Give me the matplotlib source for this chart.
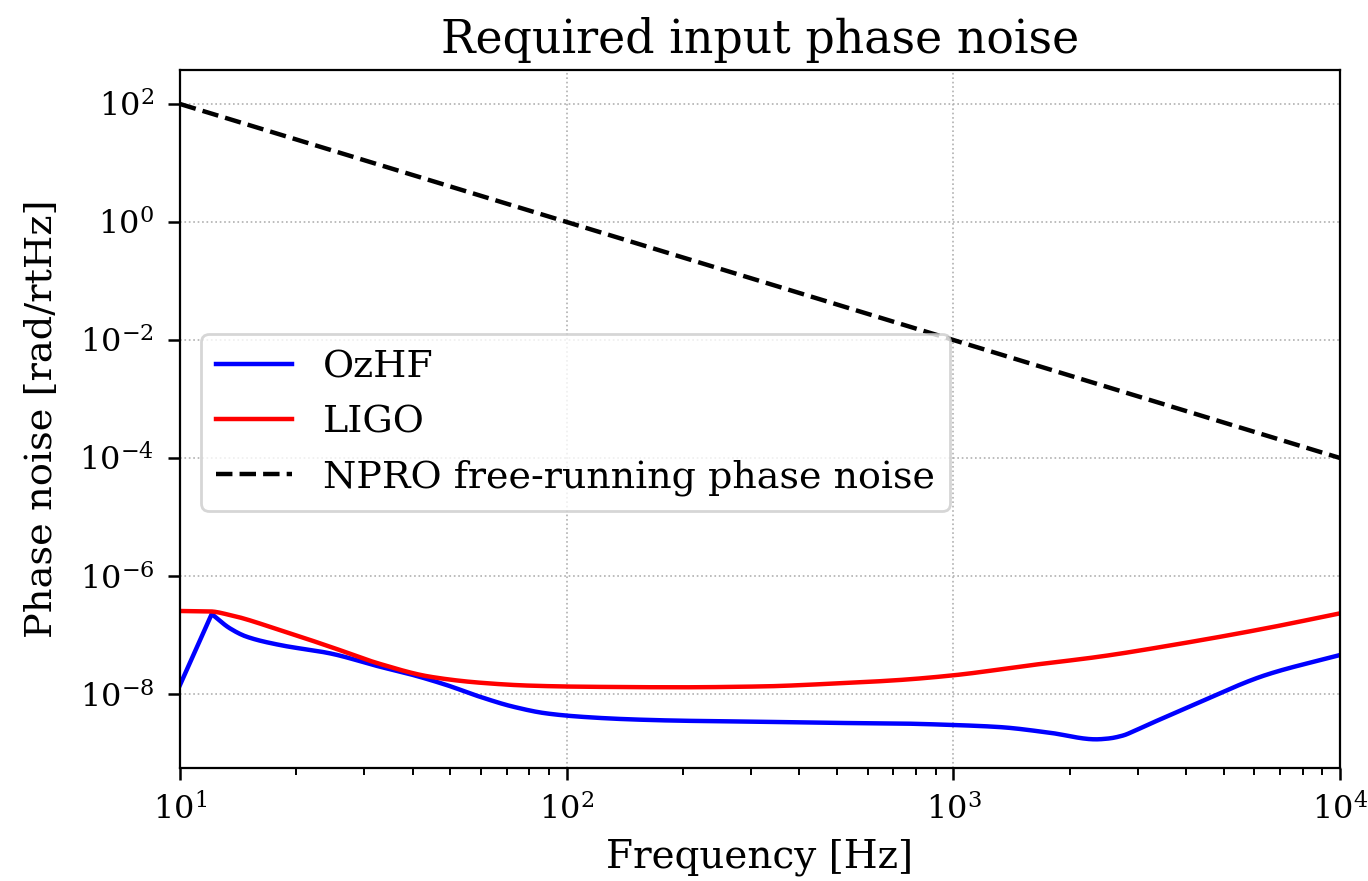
import numpy as np
import matplotlib
matplotlib.use("Agg")
import matplotlib.pyplot as plt
from matplotlib.ticker import NullLocator, FixedLocator, LogFormatterSciNotation

# OzHF required phase noise (frequency Hz, log10 of rad/rtHz)
ozhf_f = [10, 12.08, 13.46, 14.86, 18.11, 24.43, 32.89, 40.09, 48.87, 59.57, 72.61,
          88.51, 108.1, 145.5, 195.9, 316, 501, 724, 1000, 1315, 1770, 2339, 2512,
          2742, 2951, 3214, 3715, 4325, 6427, 10000]
ozhf_log = [-7.847, -6.644, -6.887, -7.028, -7.169, -7.311, -7.537, -7.678, -7.847,
            -8.045, -8.214, -8.328, -8.384, -8.429, -8.452, -8.47, -8.49, -8.50, -8.525,
            -8.56, -8.655, -8.768, -8.755, -8.705, -8.62, -8.51, -8.33, -8.14,
            -7.678, -7.339]

# LIGO required phase noise
ligo_f = [10, 11.97, 13.46, 18.11, 24.43, 32.89, 44.26, 59.57, 80.17, 108.1, 195.9,
          316, 501, 724, 1000, 1603, 2382, 3917, 6427, 10000]
ligo_log = [-6.593, -6.60, -6.661, -6.915, -7.198, -7.49, -7.706, -7.808, -7.858, -7.876,
            -7.886, -7.872, -7.82, -7.763, -7.683, -7.508, -7.368, -7.141, -6.887, -6.633]

# NPRO free-running phase noise
npro_f = [10, 10000]
npro_val = [100, 1e-4]

plt.rcParams['font.family'] = ['DejaVu Serif']
plt.rcParams['mathtext.fontset'] = 'dejavuserif'

fig = plt.figure(figsize=(6.84, 4.405), dpi=200)
ax = fig.add_axes([180/1368, 1-768/881, (1340-180)/1368, (768-70)/881])


def pchip_log(fx, ly, n=800):
    xs = np.log10(np.asarray(fx, float))
    ys = np.asarray(ly, float)
    grid = np.linspace(xs[0], xs[-1], n)
    h = np.diff(xs)
    d = np.diff(ys) / h
    m = np.zeros_like(ys)
    m[0] = d[0]
    m[-1] = d[-1]
    for i in range(1, len(xs) - 1):
        if d[i-1] * d[i] <= 0:
            m[i] = 0
        else:
            w1 = 2*h[i] + h[i-1]
            w2 = h[i] + 2*h[i-1]
            m[i] = (w1 + w2) / (w1/d[i-1] + w2/d[i])
    idx = np.clip(np.searchsorted(xs, grid) - 1, 0, len(xs) - 2)
    t = (grid - xs[idx]) / h[idx]
    h00 = 2*t**3 - 3*t**2 + 1
    h10 = t**3 - 2*t**2 + t
    h01 = -2*t**3 + 3*t**2
    h11 = t**3 - t**2
    out = h00*ys[idx] + h10*h[idx]*m[idx] + h01*ys[idx+1] + h11*h[idx]*m[idx+1]
    return 10**grid, 10**out


# OzHF: straight rise to the peak, then smooth curve
x1, y1 = pchip_log(ozhf_f[1:], ozhf_log[1:])
x1 = np.concatenate([[ozhf_f[0]], x1])
y1 = np.concatenate([[10**ozhf_log[0]], y1])
ax.loglog(x1, y1, color='blue', lw=1.6, label='OzHF')
x2, y2 = pchip_log(ligo_f, ligo_log)
ax.loglog(x2, y2, color='red', lw=1.6, label='LIGO')
ax.loglog(npro_f, npro_val, color='black', ls='--', lw=1.6,
          label='NPRO free-running phase noise')

ax.set_xlim(10, 1e4)
ax.set_ylim(10**-9.254, 10**2.576)
ax.yaxis.set_major_locator(FixedLocator([1e-8, 1e-6, 1e-4, 1e-2, 1e0, 1e2]))
ax.yaxis.set_minor_locator(NullLocator())
ax.yaxis.set_major_formatter(LogFormatterSciNotation())

ax.grid(True, which='major', ls=':', color='#b0b0b0', lw=0.6)
ax.tick_params(which='major', length=4.3, width=0.9, labelsize=11.5, pad=5)
ax.tick_params(which='minor', length=2.5, width=0.7)

ax.set_title('Required input phase noise', fontsize=16.5, pad=6)
ax.set_xlabel('Frequency [Hz]', fontsize=14, labelpad=4)
ax.set_ylabel('Phase noise [rad/rtHz]', fontsize=13.8, labelpad=7)

ax.legend(loc='center left', fontsize=13.7, bbox_to_anchor=(0.0, 0.495),
          borderaxespad=0.55, handlelength=2.0, framealpha=0.8)

fig.savefig('out.png', dpi=200)
